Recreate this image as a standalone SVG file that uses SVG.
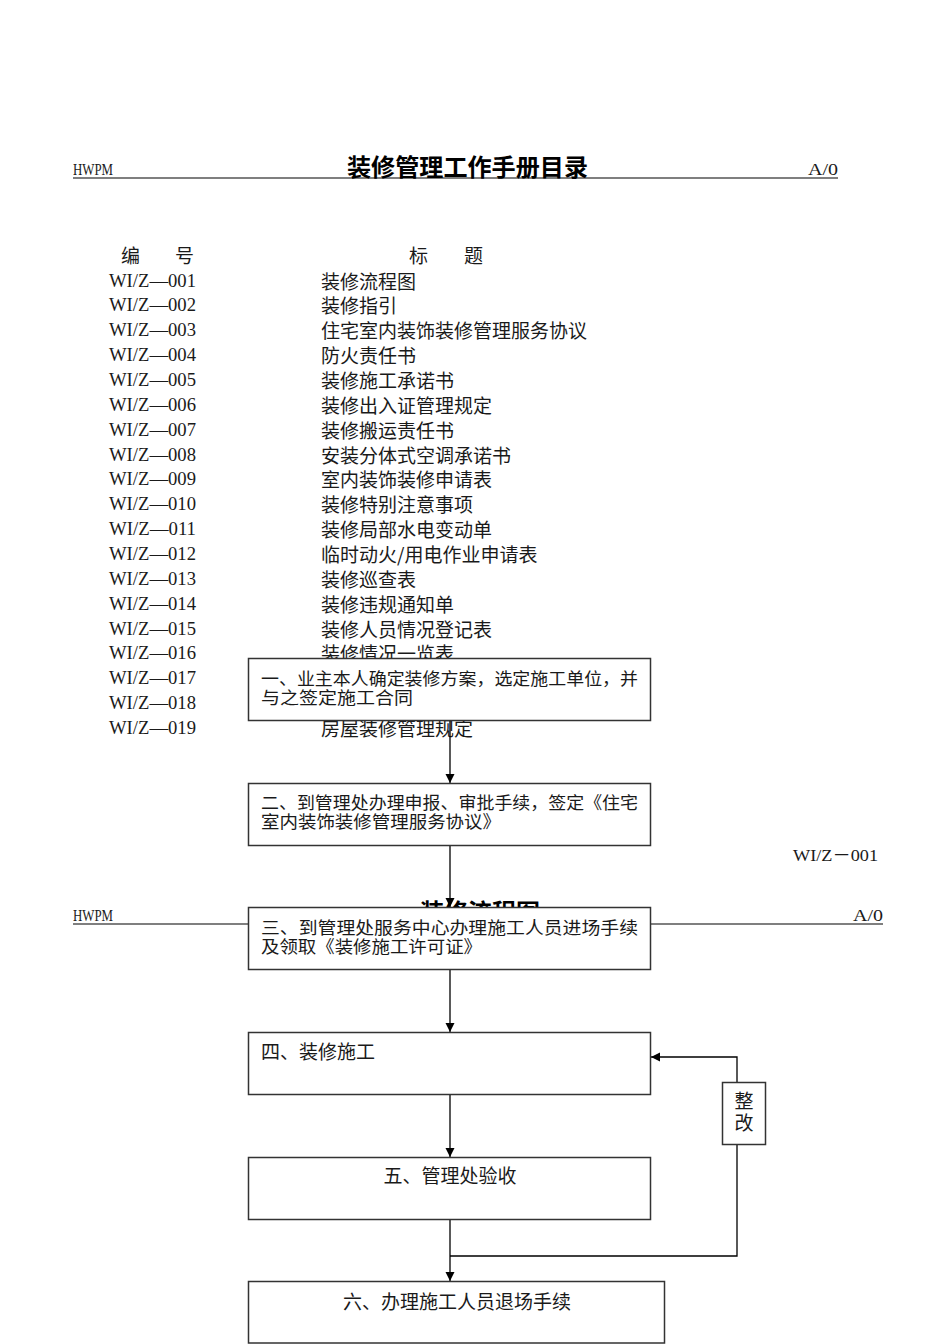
<svg xmlns="http://www.w3.org/2000/svg" width="950" height="1344" viewBox="0 0 950 1344">
<style>
.cjk{font-family:"Noto Sans CJK SC","Noto Sans",sans-serif;font-size:19px;fill:#1a1a1a;dominant-baseline:central}
.bx2{font-size:17.5px}
.lat{font-family:"Liberation Serif","Noto Sans CJK SC",serif;font-size:19px;fill:#1a1a1a;dominant-baseline:central}
.hd{font-family:"Liberation Serif",serif;font-size:16px;fill:#1a1a1a}
.ttl{font-family:"Noto Sans CJK SC",sans-serif;font-size:24px;font-weight:bold;fill:#000}
.rule{stroke:#555;stroke-width:1.6;fill:none}
.box{fill:#fff;stroke:#333;stroke-width:1.5}
.con{stroke:#000;stroke-width:1.3;fill:none}
</style>
<defs>
<marker id="arr" markerWidth="10" markerHeight="10" refX="9" refY="5" orient="auto" markerUnits="userSpaceOnUse">
<path d="M0,0.5 L9,5 L0,9.5 z" fill="#000"/>
</marker>
</defs>
<rect width="950" height="1344" fill="#fff"/>

<g id="header1">
<line class="rule" x1="73" y1="178" x2="838" y2="178"/>
<text class="hd" x="73" y="175" textLength="40" lengthAdjust="spacingAndGlyphs">HWPM</text>
<text class="hd" x="808" y="175" textLength="30" lengthAdjust="spacingAndGlyphs">A/0</text>
<text class="ttl" x="467.5" y="176" text-anchor="middle" textLength="241" lengthAdjust="spacingAndGlyphs">装修管理工作手册目录</text>
</g>

<g id="toc">
<text class="cjk" x="121" y="254">编</text>
<text class="cjk" x="175" y="254">号</text>
<text class="cjk" x="409" y="254">标</text>
<text class="cjk" x="464" y="254">题</text>
<g class="codes">
<text class="lat" x="109" y="280" textLength="87" lengthAdjust="spacingAndGlyphs">WI/Z—001</text>
<text class="lat" x="109" y="304.9" textLength="87" lengthAdjust="spacingAndGlyphs">WI/Z—002</text>
<text class="lat" x="109" y="329.7" textLength="87" lengthAdjust="spacingAndGlyphs">WI/Z—003</text>
<text class="lat" x="109" y="354.6" textLength="87" lengthAdjust="spacingAndGlyphs">WI/Z—004</text>
<text class="lat" x="109" y="379.4" textLength="87" lengthAdjust="spacingAndGlyphs">WI/Z—005</text>
<text class="lat" x="109" y="404.3" textLength="87" lengthAdjust="spacingAndGlyphs">WI/Z—006</text>
<text class="lat" x="109" y="429.2" textLength="87" lengthAdjust="spacingAndGlyphs">WI/Z—007</text>
<text class="lat" x="109" y="454" textLength="87" lengthAdjust="spacingAndGlyphs">WI/Z—008</text>
<text class="lat" x="109" y="478.9" textLength="87" lengthAdjust="spacingAndGlyphs">WI/Z—009</text>
<text class="lat" x="109" y="503.7" textLength="87" lengthAdjust="spacingAndGlyphs">WI/Z—010</text>
<text class="lat" x="109" y="528.6" textLength="87" lengthAdjust="spacingAndGlyphs">WI/Z—011</text>
<text class="lat" x="109" y="553.5" textLength="87" lengthAdjust="spacingAndGlyphs">WI/Z—012</text>
<text class="lat" x="109" y="578.3" textLength="87" lengthAdjust="spacingAndGlyphs">WI/Z—013</text>
<text class="lat" x="109" y="603.2" textLength="87" lengthAdjust="spacingAndGlyphs">WI/Z—014</text>
<text class="lat" x="109" y="628" textLength="87" lengthAdjust="spacingAndGlyphs">WI/Z—015</text>
<text class="lat" x="109" y="652.9" textLength="87" lengthAdjust="spacingAndGlyphs">WI/Z—016</text>
<text class="lat" x="109" y="677.8" textLength="87" lengthAdjust="spacingAndGlyphs">WI/Z—017</text>
<text class="lat" x="109" y="702.6" textLength="87" lengthAdjust="spacingAndGlyphs">WI/Z—018</text>
<text class="lat" x="109" y="727.5" textLength="87" lengthAdjust="spacingAndGlyphs">WI/Z—019</text>
</g>
<g class="titles">
<text class="cjk" x="321" y="280">装修流程图</text>
<text class="cjk" x="321" y="304.9">装修指引</text>
<text class="cjk" x="321" y="329.7">住宅室内装饰装修管理服务协议</text>
<text class="cjk" x="321" y="354.6">防火责任书</text>
<text class="cjk" x="321" y="379.4">装修施工承诺书</text>
<text class="cjk" x="321" y="404.3">装修出入证管理规定</text>
<text class="cjk" x="321" y="429.2">装修搬运责任书</text>
<text class="cjk" x="321" y="454">安装分体式空调承诺书</text>
<text class="cjk" x="321" y="478.9">室内装饰装修申请表</text>
<text class="cjk" x="321" y="503.7">装修特别注意事项</text>
<text class="cjk" x="321" y="528.6">装修局部水电变动单</text>
<text class="cjk" x="321" y="553.5">临时动火/用电作业申请表</text>
<text class="cjk" x="321" y="578.3">装修巡查表</text>
<text class="cjk" x="321" y="603.2">装修违规通知单</text>
<text class="cjk" x="321" y="628">装修人员情况登记表</text>
<text class="cjk" x="321" y="652.9">装修情况一览表</text>
<text class="cjk" x="321" y="727.5">房屋装修管理规定</text>
</g>
</g>

<g id="header2">
<text class="lat" x="793" y="855" textLength="85" lengthAdjust="spacingAndGlyphs" style="font-size:17px">WI/Z－001</text>
<line class="rule" x1="73" y1="924" x2="883" y2="924"/>
<text class="hd" x="73" y="921" textLength="40" lengthAdjust="spacingAndGlyphs">HWPM</text>
<text class="hd" x="853" y="921" textLength="30" lengthAdjust="spacingAndGlyphs">A/0</text>
<text class="ttl" x="480" y="921" text-anchor="middle" textLength="120" lengthAdjust="spacingAndGlyphs">装修流程图</text>
</g>

<g id="connectors">
<path class="con" d="M450 720 V783" marker-end="url(#arr)"/>
<path class="con" d="M450 845 V907" marker-end="url(#arr)"/>
<path class="con" d="M450 970 V1032" marker-end="url(#arr)"/>
<path class="con" d="M450 1094 V1157" marker-end="url(#arr)"/>
<path class="con" d="M450 1219 V1281" marker-end="url(#arr)"/>
<path class="con" d="M450 1256 H737 V1144"/>
<path class="con" d="M737 1082 V1057 H651" marker-end="url(#arr)"/>
</g>

<g id="n1">
<rect class="box" x="248.5" y="658.5" width="402" height="62"/>
<text class="cjk bx2" x="261" y="677" textLength="377" lengthAdjust="spacingAndGlyphs">一、业主本人确定装修方案，选定施工单位，并</text>
<text class="cjk bx2" x="261" y="696" textLength="152" lengthAdjust="spacingAndGlyphs">与之签定施工合同</text>
</g>
<g id="n2">
<rect class="box" x="248.5" y="783.5" width="402" height="62"/>
<text class="cjk bx2" x="261" y="801" textLength="377" lengthAdjust="spacingAndGlyphs">二、到管理处办理申报、审批手续，签定《住宅</text>
<text class="cjk bx2" x="261" y="820" textLength="240" lengthAdjust="spacingAndGlyphs">室内装饰装修管理服务协议》</text>
</g>
<g id="n3">
<rect class="box" x="248.5" y="907.5" width="402" height="62"/>
<text class="cjk bx2" x="261" y="926" textLength="377" lengthAdjust="spacingAndGlyphs">三、到管理处服务中心办理施工人员进场手续</text>
<text class="cjk bx2" x="261" y="945" textLength="221" lengthAdjust="spacingAndGlyphs">及领取《装修施工许可证》</text>
</g>
<g id="n4">
<rect class="box" x="248.5" y="1032.5" width="402" height="62"/>
<text class="cjk" x="261" y="1050">四、装修施工</text>
</g>
<g id="n5">
<rect class="box" x="248.5" y="1157.5" width="402" height="62"/>
<text class="cjk" x="450" y="1174" text-anchor="middle">五、管理处验收</text>
</g>
<g id="n6">
<rect class="box" x="248.5" y="1281.5" width="416" height="61.5"/>
<text class="cjk" x="457" y="1300" text-anchor="middle">六、办理施工人员退场手续</text>
</g>
<g id="n7">
<rect class="box" x="722.5" y="1082.5" width="43" height="62"/>
<text class="cjk" x="744" y="1099" text-anchor="middle">整</text>
<text class="cjk" x="744" y="1121" text-anchor="middle">改</text>
</g>
</svg>
